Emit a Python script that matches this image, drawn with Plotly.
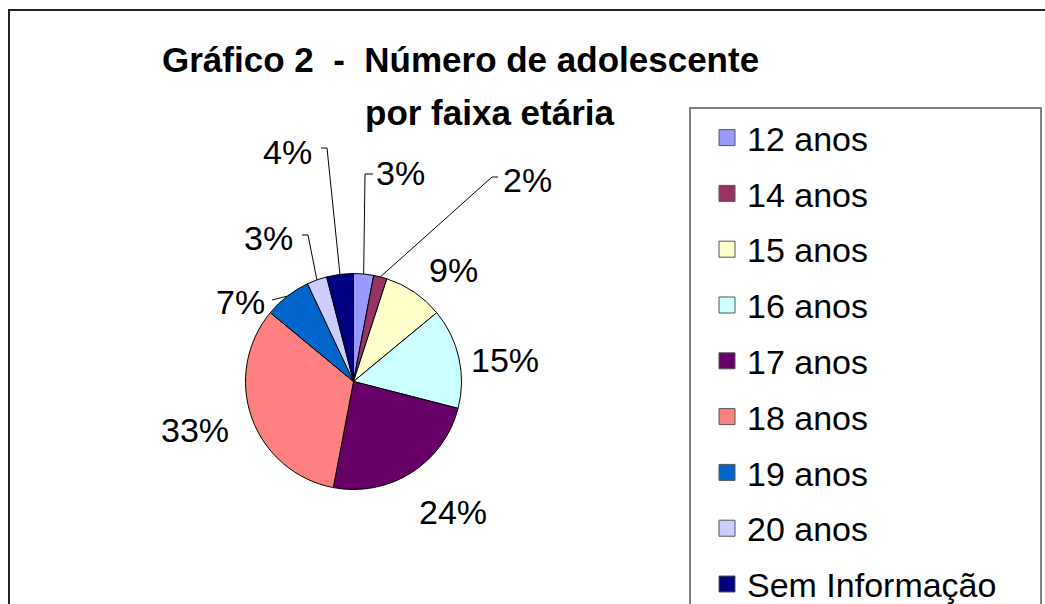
import math
import plotly.graph_objects as go

# ---- data ----
categories = ["12 anos", "14 anos", "15 anos", "16 anos", "17 anos",
              "18 anos", "19 anos", "20 anos", "Sem Informação"]
values = [3, 2, 9, 15, 24, 33, 7, 3, 4]
colors = ["#9999FF", "#993366", "#FFFFCC", "#CCFFFF", "#660066",
          "#FF8080", "#0066CC", "#CCCCFF", "#000080"]
title_line1 = "Gráfico 2  -  Número de adolescente"
title_line2 = "por faixa etária"

# ---- layout constants (pixels) ----
W, H = 1045, 604
cx, cy, R = 353.5, 381.5, 108
FONT = "Liberation Sans, Arial, sans-serif"

# label centres (pixel) per slice
label_pos = [(400, 173), (527, 180), (453, 270), (505, 360), (453, 512),
             (195, 430), (240, 302), (268, 238), (287, 152)]
# leader lines: list of pixel waypoints after the slice edge point (None = no line)
leaders = [[(365, 174), (373, 174)], [(492, 177), (498, 177)], None, None, None,
           None, [(272, 300)], [(308, 235), (302, 235)], [(327, 148), (321, 148)]]


def px(x):
    return x / W


def py(y):
    return 1 - y / H


fig = go.Figure()
fig.add_trace(go.Pie(
    labels=categories, values=values, sort=False, direction="clockwise",
    rotation=0, marker=dict(colors=colors, line=dict(color="black", width=1)),
    textinfo="none", hoverinfo="label+percent", showlegend=False,
    domain=dict(x=[px(cx - R), px(cx + R)], y=[py(cy + R), py(cy - R)]),
))

# legend entries (one per category)
for i, (c, col) in enumerate(zip(categories, colors)):
    fig.add_trace(go.Scatter(
        x=[None], y=[None], mode="markers", name=c, legendgroup=f"g{i}",
        marker=dict(symbol="square", size=17, color=col,
                    line=dict(color="#555555", width=1)),
    ))

total = sum(values)
annotations = []
shapes = []
cum = 0
for i, v in enumerate(values):
    mid = (cum + v / 2) / total * 2 * math.pi
    cum += v
    pct = round(v / total * 100)
    lx, ly = label_pos[i]
    annotations.append(dict(
        x=px(lx), y=py(ly), xref="paper", yref="paper", text=f"{pct}%",
        showarrow=False, font=dict(family=FONT, size=34, color="black"),
        xanchor="center", yanchor="middle"))
    if leaders[i]:
        ex, ey = cx + R * math.sin(mid), cy - R * math.cos(mid)
        pts = [(ex, ey)] + leaders[i]
        path = "M " + " L ".join(f"{px(a)},{py(b)}" for a, b in pts)
        shapes.append(dict(type="path", xref="paper", yref="paper", path=path,
                           line=dict(color="black", width=1)))

annotations.append(dict(x=px(460), y=py(60), xref="paper", yref="paper",
                        text=title_line1, showarrow=False,
                        font=dict(family=FONT, size=35, color="black", weight="bold"),
                        xanchor="center", yanchor="middle"))
annotations.append(dict(x=px(490), y=py(112), xref="paper", yref="paper",
                        text=title_line2, showarrow=False,
                        font=dict(family=FONT, size=35, color="black", weight="bold"),
                        xanchor="center", yanchor="middle"))

# outer chart border and legend box
shapes.append(dict(type="rect", xref="paper", yref="paper",
                   x0=px(9), x1=px(1060), y0=py(620), y1=py(10),
                   line=dict(color="#222222", width=2)))
shapes.append(dict(type="rect", xref="paper", yref="paper",
                   x0=px(690), x1=px(1041), y0=py(620), y1=py(108),
                   line=dict(color="#7f7f7f", width=2)))

fig.update_layout(
    width=W, height=H, margin=dict(l=0, r=0, t=0, b=0, autoexpand=False),
    paper_bgcolor="white", plot_bgcolor="white",
    xaxis=dict(visible=False), yaxis=dict(visible=False),
    annotations=annotations, shapes=shapes,
    legend=dict(x=px(707), y=py(109), xanchor="left", yanchor="top",
                traceorder="grouped", tracegroupgap=8.6,
                font=dict(family=FONT, size=34, color="black"),
                bgcolor="rgba(0,0,0,0)", borderwidth=0),
    showlegend=True,
)

fig.write_html(
    "out.html",
    config={"displayModeBar": False},
    post_script="document.body.style.margin='0';document.body.style.overflow='hidden';",
)
